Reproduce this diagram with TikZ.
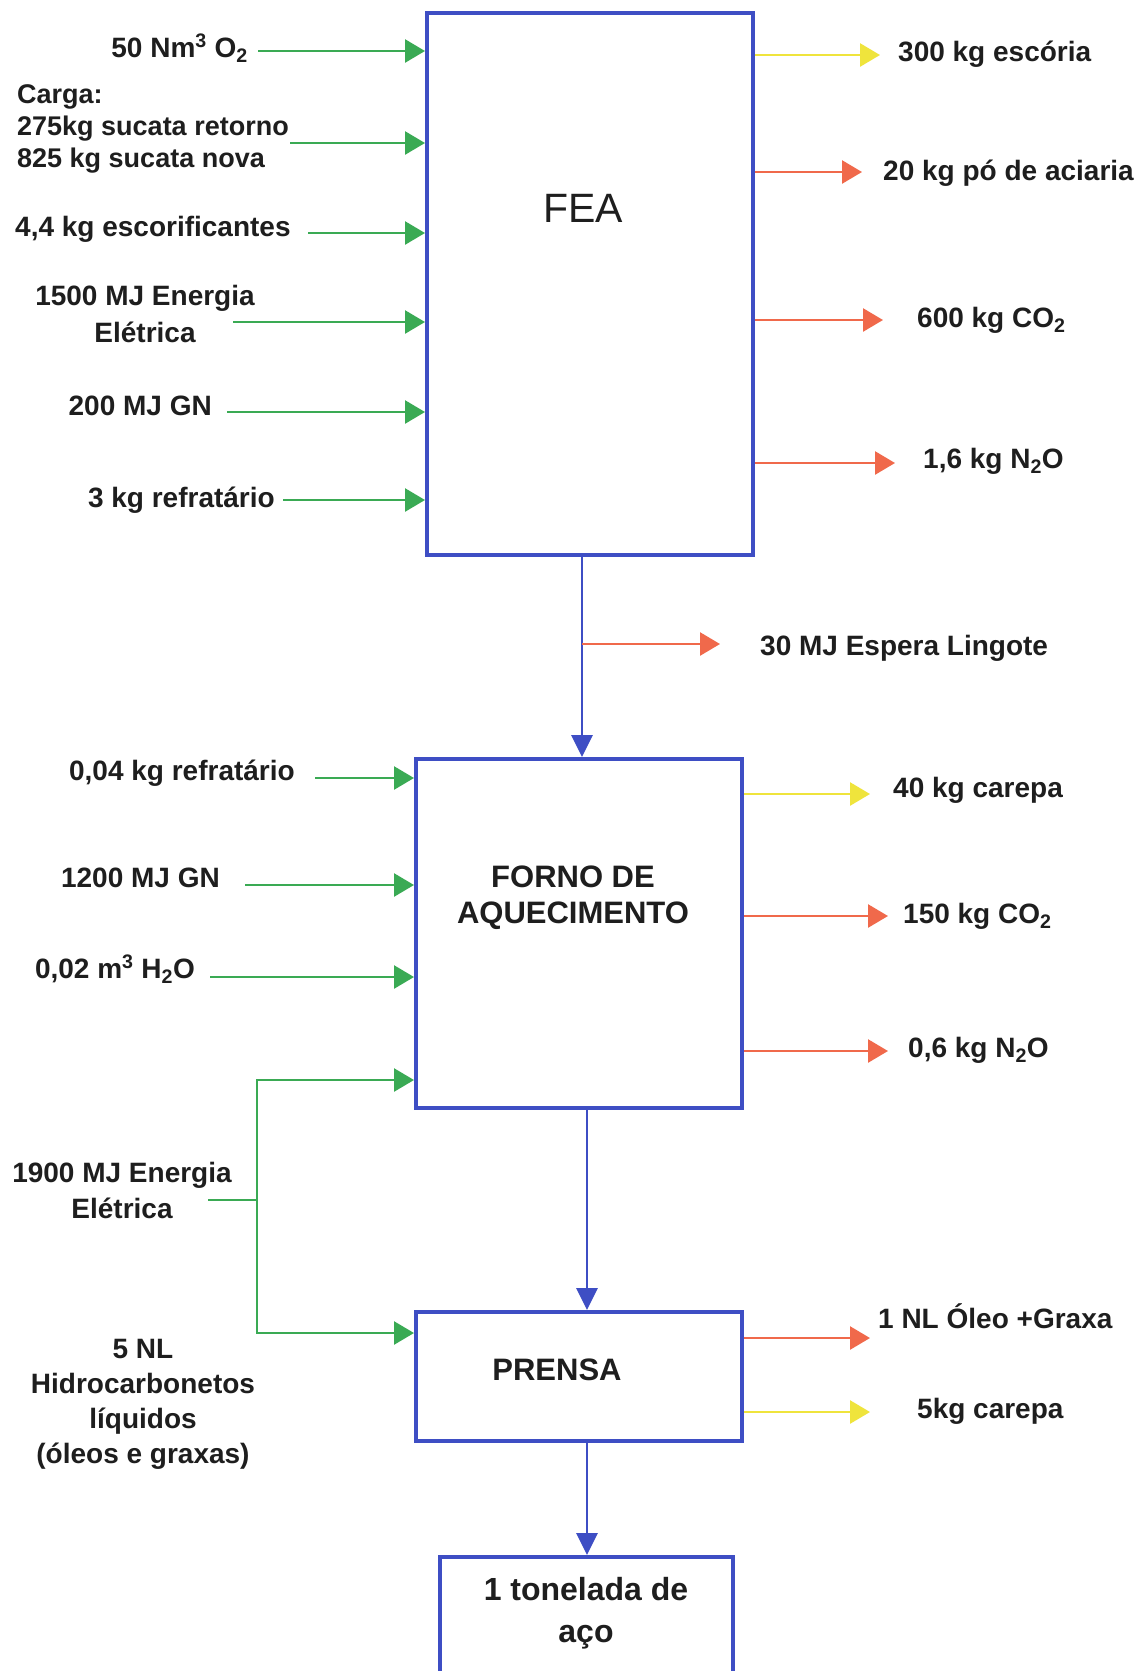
\documentclass[tikz,border=0pt]{standalone}
\usepackage{fontspec}
\setmainfont{Liberation Sans}
\usetikzlibrary{arrows.meta,calc}
\definecolor{ink}{HTML}{1E1E1E}
\definecolor{ingreen}{HTML}{3AAA54}
\definecolor{outred}{HTML}{F0694B}
\definecolor{outyellow}{HTML}{EFE43C}
\definecolor{boxblue}{HTML}{3E4EC4}
\tikzset{
  lbl/.style={font=\bfseries\fontsize{28}{33}\selectfont, text=ink, inner sep=0pt},
  boxlbl/.style={font=\bfseries\fontsize{31}{36}\selectfont, text=ink, inner sep=0pt, align=center},
  procbox/.style={draw=boxblue, line width=4pt, fill=white, inner sep=0pt},
  tip/.style={-{Triangle[length=20pt,width=23pt]}},
  gline/.style={draw=ingreen, line width=2.6pt},
  gin/.style={gline, tip},
  rout/.style={draw=outred, line width=2.6pt, tip},
  yout/.style={draw=outyellow, line width=2.6pt, tip},
  bflow/.style={draw=boxblue, line width=2.8pt, -{Triangle[length=22pt,width=21pt]}}
}
\begin{document}
\begin{tikzpicture}[x=1pt,y=-1pt]
\useasboundingbox (0,0) rectangle (1147,1671);
\clip (0,0) rectangle (1147,1671);
\fill[white] (0,0) rectangle (1147,1671);

% process boxes
\node[procbox, minimum width=326pt, minimum height=542pt] (fea) at (590,284) {};
\node[procbox, minimum width=326pt, minimum height=349pt] (forno) at (579,933.5) {};
\node[procbox, minimum width=326pt, minimum height=129pt] (prensa) at (579,1376.5) {};
\node[procbox, minimum width=293pt, minimum height=200pt, anchor=north] (aco) at (586.5,1555) {};

% box titles (the base anchor of a multi-line node sits on its last line)
\node[font=\fontsize{41}{48}\selectfont, text=ink, inner sep=0pt, anchor=base] (featxt) at (583,222) {FEA};
\node[boxlbl, anchor=base] (fornotxt) at (573,923) {FORNO DE\\AQUECIMENTO};
\node[boxlbl, anchor=base] (prensatxt) at (557,1380) {PRENSA};
\node[boxlbl, font=\bfseries\fontsize{32}{42}\selectfont, anchor=base] (acotxt) at (586,1642) {1 tonelada de\\aço};

% inputs of the electric arc furnace
\node[lbl, anchor=base east] (o2) at (248,57) {50 Nm\textsuperscript{3} O\textsubscript{2}};
\node[lbl, anchor=base west, align=left, font=\bfseries\fontsize{27}{32}\selectfont] (carga) at (17,167) {Carga:\\275kg sucata retorno\\825 kg sucata nova};
\node[lbl, anchor=base west] (escor) at (15,236) {4,4 kg escorificantes};
\node[lbl, anchor=base, align=center, font=\bfseries\fontsize{28}{37}\selectfont] (ee1) at (145,342) {1500 MJ Energia\\Elétrica};
\node[lbl, anchor=base east] (gn1) at (212,415) {200 MJ GN};
\node[lbl, anchor=base east] (ref1) at (275,507) {3 kg refratário};

\coordinate (o2s) at (258,51);
\coordinate (cargas) at (290,143);
\coordinate (escors) at (308,233);
\coordinate (ee1s) at (233,322);
\coordinate (gn1s) at (227,412);
\coordinate (ref1s) at (283,500);
\foreach \s in {o2s,cargas,escors,ee1s,gn1s,ref1s}
  \draw[gin] (\s) -- (\s -| fea.west);

% outputs of the electric arc furnace
\node[lbl, anchor=base west] (escoria) at (898,61) {300 kg escória};
\node[lbl, anchor=base west] (po) at (883,180) {20 kg pó de aciaria};
\node[lbl, anchor=base west] (co2a) at (917,327) {600 kg CO\textsubscript{2}};
\node[lbl, anchor=base west] (n2oa) at (923,468) {1,6 kg N\textsubscript{2}O};

\coordinate (escoriae) at (880,55);
\coordinate (poe) at (862,172);
\coordinate (co2ae) at (883,320);
\coordinate (n2oae) at (895,463);
\draw[yout] (escoriae -| fea.east) -- (escoriae);
\foreach \e in {poe,co2ae,n2oae}
  \draw[rout] (\e -| fea.east) -- (\e);

% furnace to reheating furnace
\coordinate (j1) at ([xshift=-8pt]fea.south);
\draw[bflow] (j1) -- (j1 |- forno.north);
\node[lbl, anchor=base west] (espera) at (760,655) {30 MJ Espera Lingote};
\coordinate (esperae) at (720,644);
\draw[rout] (esperae -| j1) -- (esperae);

% inputs of the reheating furnace
\node[lbl, anchor=base east] (ref2) at (295,780) {0,04 kg refratário};
\node[lbl, anchor=base east] (gn2) at (220,887) {1200 MJ GN};
\node[lbl, anchor=base east] (h2o) at (195,978) {0,02 m\textsuperscript{3} H\textsubscript{2}O};
\coordinate (ref2s) at (315,778);
\coordinate (gn2s) at (245,885);
\coordinate (h2os) at (210,977);
\foreach \s in {ref2s,gn2s,h2os}
  \draw[gin] (\s) -- (\s -| forno.west);

% shared electric energy feed
\node[lbl, anchor=base, align=center, font=\bfseries\fontsize{28}{36}\selectfont] (ee2) at (122,1218) {1900 MJ Energia\\Elétrica};
\node[lbl, anchor=base, align=center, font=\bfseries\fontsize{28}{35}\selectfont] (hc) at (143,1463) {5 NL\\Hidrocarbonetos\\líquidos\\(óleos e graxas)};
\coordinate (brS) at (208,1200);
\coordinate (brT) at (257,1080);
\coordinate (brB) at (257,1333);
\draw[gline] (brS) -- (brS -| brT);
\draw[gin] (brS -| brT) -- (brT) -- (brT -| forno.west);
\draw[gin] (brS -| brT) -- (brB) -- (brB -| prensa.west);

% outputs of the reheating furnace
\node[lbl, anchor=base west] (carepa1) at (893,797) {40 kg carepa};
\node[lbl, anchor=base west] (co2b) at (903,923) {150 kg CO\textsubscript{2}};
\node[lbl, anchor=base west] (n2ob) at (908,1057) {0,6 kg N\textsubscript{2}O};
\coordinate (carepa1e) at (870,794);
\coordinate (co2be) at (888,916);
\coordinate (n2obe) at (888,1051);
\draw[yout] (carepa1e -| forno.east) -- (carepa1e);
\draw[rout] (co2be -| forno.east) -- (co2be);
\draw[rout] (n2obe -| forno.east) -- (n2obe);

% reheating furnace to press
\coordinate (j2) at ([xshift=8pt]forno.south);
\draw[bflow] (j2) -- (j2 |- prensa.north);

% outputs of the press
\node[lbl, anchor=base west] (oleo) at (878,1328) {1 NL Óleo +Graxa};
\node[lbl, anchor=base west] (carepa2) at (917,1418) {5kg carepa};
\coordinate (oleoe) at (870,1338);
\coordinate (carepa2e) at (870,1412);
\draw[rout] (oleoe -| prensa.east) -- (oleoe);
\draw[yout] (carepa2e -| prensa.east) -- (carepa2e);

% press to finished steel
\coordinate (j3) at ([xshift=8pt]prensa.south);
\draw[bflow] (j3) -- (j3 |- aco.north);
\end{tikzpicture}
\end{document}
